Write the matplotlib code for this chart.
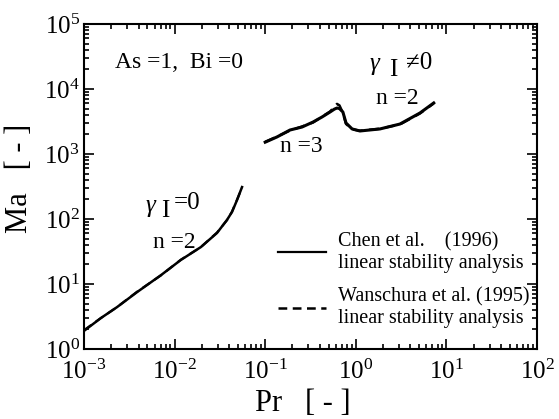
import matplotlib
matplotlib.use("Agg")
import matplotlib.pyplot as plt
from matplotlib.ticker import LogLocator, NullFormatter
from matplotlib.lines import Line2D

plt.rcParams['font.family'] = ['Liberation Serif', 'DejaVu Serif']
plt.rcParams['mathtext.fontset'] = 'stix'
plt.rcParams['axes.unicode_minus'] = False

#%% datos

# gamma_I = 0, n = 2
pr_g0 = [1e-3, 1.54e-3, 2.31e-3, 3.85e-3, 7.08e-3, 0.0117, 0.0195, 0.0294, 0.0379, 0.043, 0.0489, 0.0555]
ma_g0_chen = [1.9, 3.0, 4.4, 7.5, 13.7, 23.4, 37, 61, 97, 128, 196, 310]
ma_g0_wan = [1.95, 3.0, 4.4, 7.6, 13.6, 23.6, 37, 62, 96, 130, 198, 305]

# gamma_I != 0, n = 3 -> n = 2
pr_g1 = [0.10, 0.135, 0.188, 0.255, 0.337, 0.424, 0.52, 0.58, 0.62, 0.66, 0.72, 0.78, 0.91,
         1.11, 1.85, 3.07, 5.1, 7.25]
ma_g1_chen = [1520, 1830, 2340, 2600, 3100, 3710, 4430, 4900, 5100, 5000, 4430, 3000, 2430,
              2260, 2430, 2890, 4270, 6100]
ma_g1_wan = [1540, 1850, 2300, 2650, 3050, 3750, 4500, 5300, 5900, 5600, 4300, 2900, 2400,
             2280, 2450, 2850, 4200, 6000]

#%% figura

fig = plt.figure(figsize=(5.59, 4.19), dpi=100)
ax = fig.add_axes([84/559, 1-349/419, 453/559, 325/419])

ax.plot(pr_g0, ma_g0_chen, 'k-', lw=1.8)
ax.plot(pr_g0, ma_g0_wan, 'k--', lw=1.6, dashes=(4, 2.5))
ax.plot(pr_g1, ma_g1_chen, 'k-', lw=2.2)
ax.plot(pr_g1, ma_g1_wan, 'k--', lw=1.8, dashes=(4, 2.5))

ax.set_xscale('log')
ax.set_yscale('log')
ax.set_xlim(1e-3, 1e2)
ax.set_ylim(1e0, 1e5)

ax.xaxis.set_major_locator(LogLocator(base=10, numticks=10))
ax.yaxis.set_major_locator(LogLocator(base=10, numticks=10))
ax.xaxis.set_minor_locator(LogLocator(base=10, subs=range(2, 10), numticks=20))
ax.yaxis.set_minor_locator(LogLocator(base=10, subs=range(2, 10), numticks=20))
ax.xaxis.set_minor_formatter(NullFormatter())
ax.yaxis.set_minor_formatter(NullFormatter())

ax.tick_params(which='both', direction='in', top=True, right=True, width=1.2, labelsize=18)
ax.tick_params(which='major', length=7)
ax.tick_params(which='minor', length=3.5)
ax.tick_params(axis='x', pad=8)
ax.tick_params(axis='y', pad=3)
for s in ax.spines.values():
    s.set_linewidth(1.5)

ax.set_xlabel('Pr   [ - ]', fontsize=22)
ax.xaxis.set_label_coords((303-84)/453, -(389-349)/325)
ax.set_ylabel('Ma   [ - ]', fontsize=22)
ax.yaxis.set_label_coords(-(84-34)/453, (349-178)/325)

def px(x, y):
    return x/559, 1 - y/419

fig.text(*px(115, 63), 'As =1,  Bi =0', fontsize=17, ha='left', va='center')

fig.text(*px(150, 206), 'γ', fontsize=18, style='italic', ha='center', va='center')
fig.text(*px(165, 211), 'I', fontsize=18, ha='center', va='center')
fig.text(*px(174, 203), '=0', fontsize=18, ha='left', va='center')
fig.text(*px(174, 242), 'n =2', fontsize=17, ha='center', va='center')

fig.text(*px(374, 64), 'γ', fontsize=18, style='italic', ha='center', va='center')
fig.text(*px(393, 70), 'I', fontsize=18, ha='center', va='center')
fig.text(*px(406, 63), '≠0', fontsize=18, ha='left', va='center')
fig.text(*px(397, 98), 'n =2', fontsize=17, ha='center', va='center')
fig.text(*px(301, 146), 'n =3', fontsize=17, ha='center', va='center')

handles = [Line2D([], [], color='k', lw=1.6),
           Line2D([], [], color='k', lw=1.8, ls='--', dashes=(3.5, 2.2))]
labels = ['Chen et al.    (1996)\nlinear stability analysis',
          'Wanschura et al. (1995)\nlinear stability analysis']
ax.legend(handles, labels, loc='upper left', bbox_to_anchor=(0.428, 0.36),
          frameon=False, fontsize=14.5, handlelength=2.4, handletextpad=0.6,
          labelspacing=0.7, borderpad=0, borderaxespad=0)

fig.savefig('out.png', dpi=100)
